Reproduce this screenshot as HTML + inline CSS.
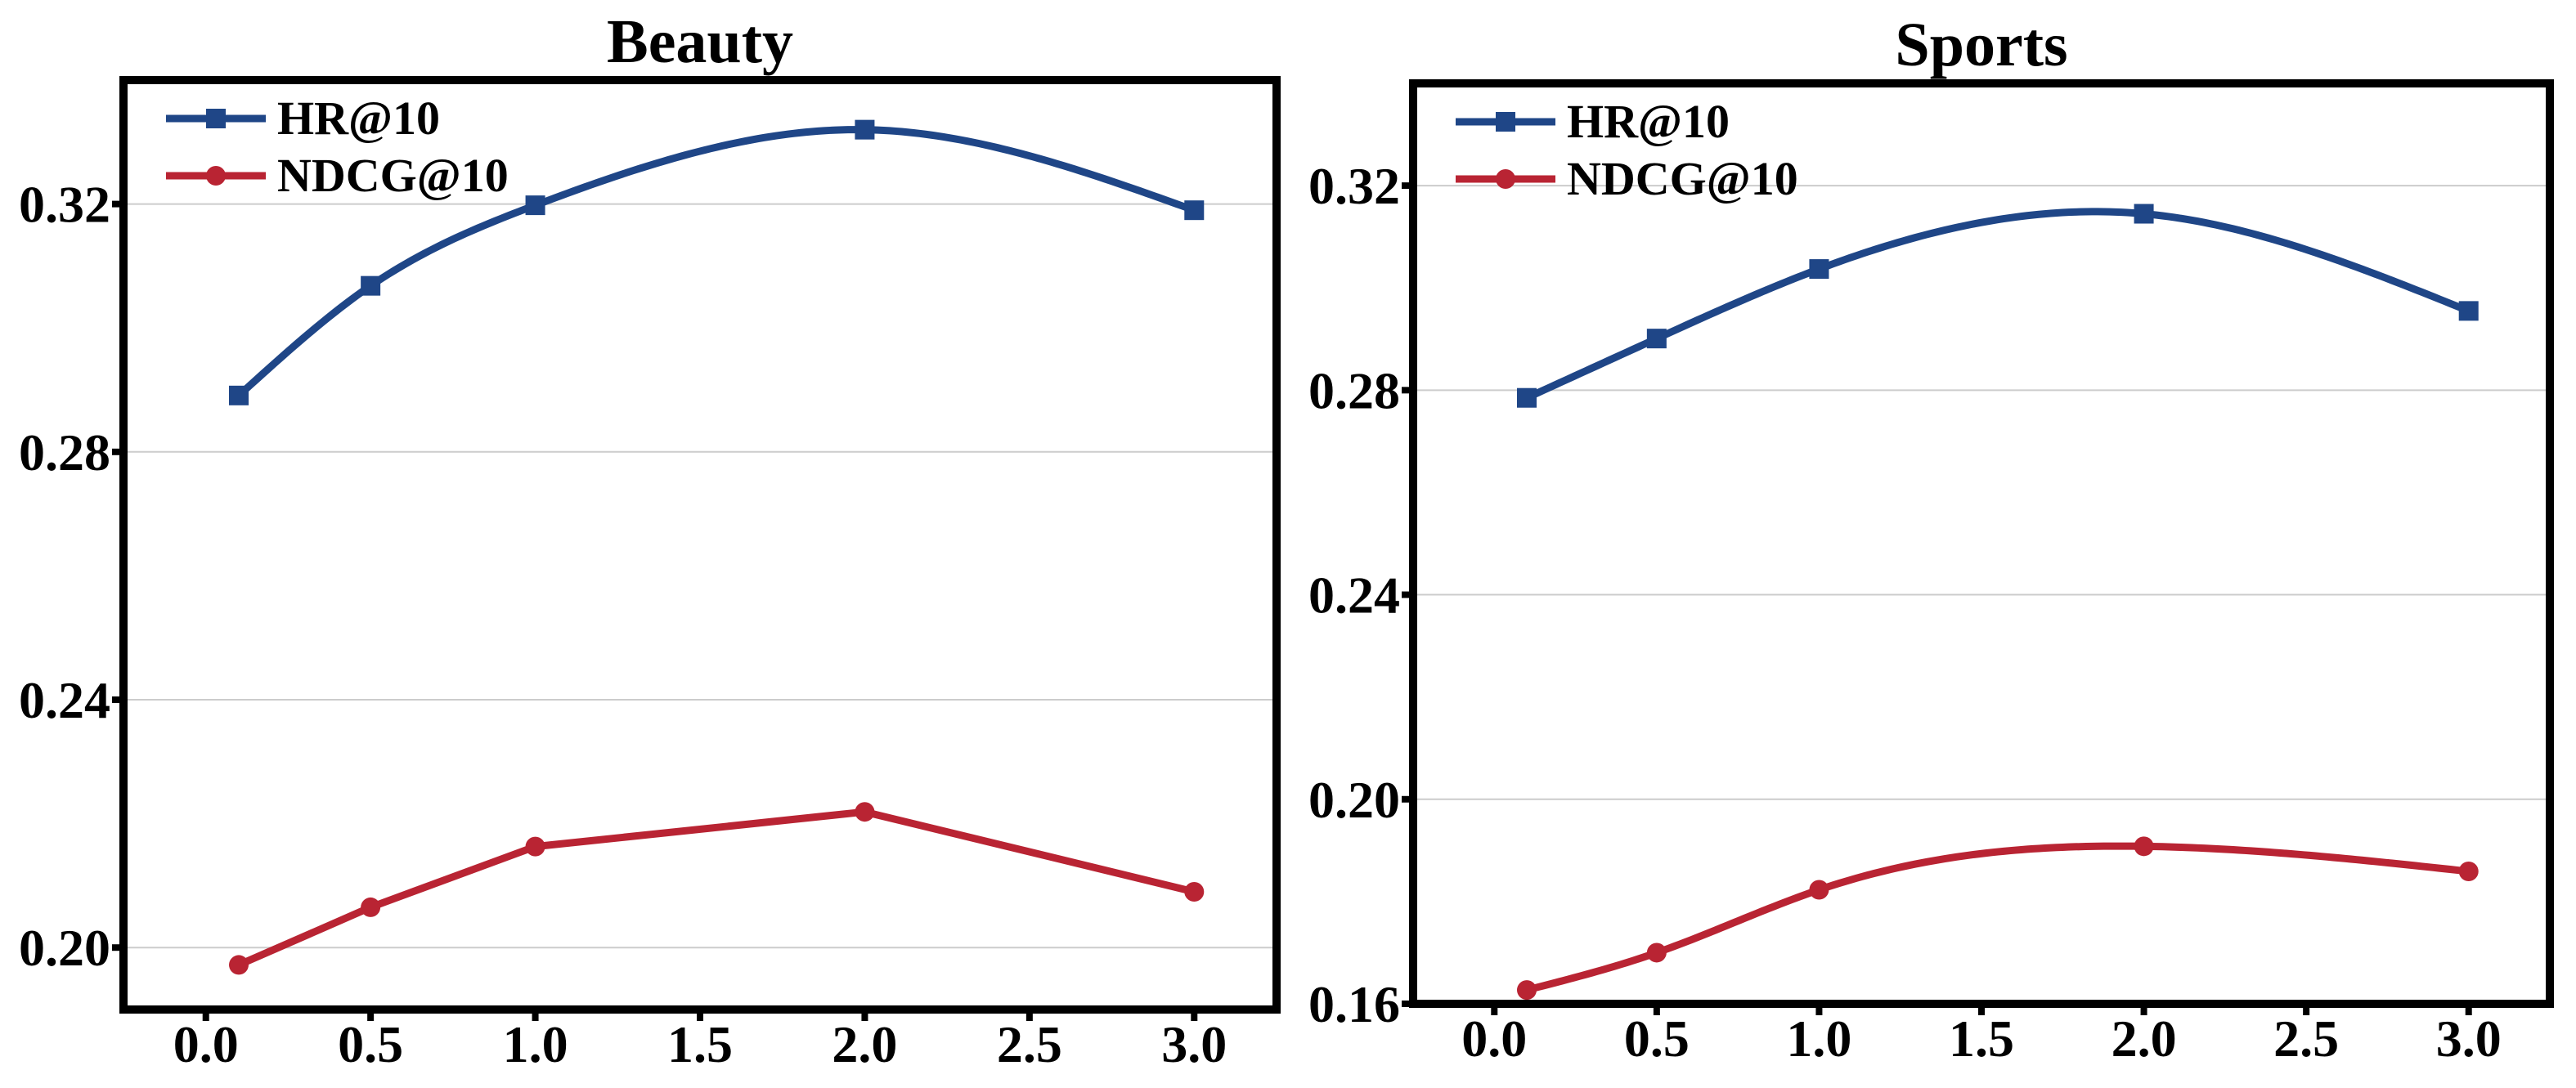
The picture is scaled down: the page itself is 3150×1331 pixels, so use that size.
<!DOCTYPE html>
<html><head><meta charset="utf-8"><style>
html,body{margin:0;padding:0;background:#fff;overflow:hidden;}
svg{display:block;font-family:"Liberation Serif",serif;font-weight:bold;}
</style></head><body>
<svg id="chart" width="3150" height="1331" viewBox="0 0 3150 1331" xmlns="http://www.w3.org/2000/svg"></svg>
<script>
const xValues = [0.1, 0.5, 1.0, 2.0, 3.0];
const xTicks = [0.0, 0.5, 1.0, 1.5, 2.0, 2.5, 3.0];
const xTickLabels = ["0.0","0.5","1.0","1.5","2.0","2.5","3.0"];
const beautyHR = [0.2891, 0.3068, 0.3198, 0.3320, 0.3190];
const beautyNDCG = [0.1972, 0.2065, 0.2163, 0.2219, 0.2090];
const beautyYTicks = [0.20, 0.24, 0.28, 0.32];
const beautyYTickLabels = ["0.20","0.24","0.28","0.32"];
const sportsHR = [0.2785, 0.2901, 0.3037, 0.3145, 0.2955];
const sportsNDCG = [0.1627, 0.1700, 0.1823, 0.1908, 0.1859];
const sportsYTicks = [0.16, 0.20, 0.24, 0.28, 0.32];
const sportsYTickLabels = ["0.16","0.20","0.24","0.28","0.32"];

const NS = "http://www.w3.org/2000/svg";
const svg = document.getElementById("chart");
function mk(tag, attrs, parent){const e=document.createElementNS(NS,tag);for(const k in attrs)e.setAttribute(k,attrs[k]);(parent||svg).appendChild(e);return e;}
const BLUE="#1f4687", RED="#b92433";

// natural cubic spline in data space
function spline(xs, ys){
  const n=xs.length, h=[], a=[], l=[1], mu=[0], z=[0], c=new Array(n).fill(0), b=[], d=[];
  for(let i=0;i<n-1;i++) h[i]=xs[i+1]-xs[i];
  for(let i=1;i<n-1;i++) a[i]=3/h[i]*(ys[i+1]-ys[i])-3/h[i-1]*(ys[i]-ys[i-1]);
  for(let i=1;i<n-1;i++){l[i]=2*(xs[i+1]-xs[i-1])-h[i-1]*mu[i-1];mu[i]=h[i]/l[i];z[i]=(a[i]-h[i-1]*z[i-1])/l[i];}
  l[n-1]=1;z[n-1]=0;
  for(let j=n-2;j>=0;j--){c[j]=z[j]-mu[j]*c[j+1];b[j]=(ys[j+1]-ys[j])/h[j]-h[j]*(c[j+1]+2*c[j])/3;d[j]=(c[j+1]-c[j])/(3*h[j]);}
  return x=>{let i=0;while(i<n-2&&x>xs[i+1])i++;const t=x-xs[i];return ys[i]+b[i]*t+c[i]*t*t+d[i]*t*t*t;};
}

function panel(cfg){
  const g=mk("g",{});
  
  
  const {L,R,T,B,ymin,ymax}=cfg;
  const xs=v=>L+(v+0.25)/3.5*(R-L);
  const ys=v=>B-(v-ymin)/(ymax-ymin)*(B-T);
  cfg.yTicks.forEach((t,i)=>{
    const y=ys(t);
    if(y<B-3){const gl=mk("line",{x1:L,x2:R,y1:y,y2:y,stroke:"#cccccc","stroke-width":2},g);
    
    }
    mk("line",{x1:L-14,x2:L,y1:y,y2:y,stroke:"#000","stroke-width":8},g);
    const tx=mk("text",{x:L-16,y:y+22,"text-anchor":"end","font-size":64},g);
    tx.textContent=cfg.yTickLabels[i];
    
    
  });
  xTicks.forEach((t,i)=>{
    const x=xs(t);
    mk("line",{x1:x,x2:x,y1:B,y2:B+14,stroke:"#000","stroke-width":8},g);
    const tx=mk("text",{x:x,y:B+64,"text-anchor":"middle","font-size":64},g);
    tx.textContent=xTickLabels[i];
    
    
  });
  const series=[{vals:cfg.hr,color:BLUE,mark:"sq",smooth:true,name:"hr-line"},{vals:cfg.ndcg,color:RED,mark:"ci",smooth:cfg.ndcgSmooth,name:"ndcg-line"}];
  series.forEach(s=>{
    const pts=xValues.map((x,i)=>[xs(x),ys(s.vals[i])]);
    let d;
    if(s.smooth){
      const f=spline(xValues,s.vals);
      const x0=xValues[0], x1=xValues[xValues.length-1], N=160;
      const arr=[];
      for(let k=0;k<=N;k++){const xv=x0+(x1-x0)*k/N;arr.push(xs(xv).toFixed(2)+","+ys(f(xv)).toFixed(2));}
      d="M"+arr.join(" L");
    } else d="M"+pts.map(p=>p.join(",")).join(" L");
    const p=mk("path",{d:d,fill:"none",stroke:s.color,"stroke-width":9,"stroke-linejoin":"round"},g);
    
    
    pts.forEach(pt=>{
      let m;
      if(s.mark==="sq") m=mk("rect",{x:pt[0]-12,y:pt[1]-12,width:24,height:24,fill:s.color},g);
      else m=mk("circle",{cx:pt[0],cy:pt[1],r:12,fill:s.color},g);
      
      
    });
  });
  const fr=mk("rect",{x:L,y:T,width:R-L,height:B-T,fill:"none",stroke:"#000","stroke-width":10},g);
  
  
  const ti=mk("text",{x:(L+R)/2,y:T-22,"text-anchor":"middle","font-size":76},g);
  ti.textContent=cfg.title;
  
  
  const lx=L+52;
  [["HR@10",BLUE,"sq",T+47],["NDCG@10",RED,"ci",T+117]].forEach(e=>{
    const lg=mk("g",{},g);
    
    
    mk("line",{x1:lx,x2:lx+122,y1:e[3],y2:e[3],stroke:e[1],"stroke-width":9},lg);
    if(e[2]==="sq") mk("rect",{x:lx+61-12,y:e[3]-12,width:24,height:24,fill:e[1]},lg);
    else mk("circle",{cx:lx+61,cy:e[3],r:12,fill:e[1]},lg);
    const t=mk("text",{x:lx+136,y:e[3]+19,"font-size":58},lg);
    t.textContent=e[0];
  });
}
panel({name:"beauty",title:"Beauty",L:151,R:1561,T:98,B:1235,ymin:0.19,ymax:0.34,hr:beautyHR,ndcg:beautyNDCG,ndcgSmooth:false,yTicks:beautyYTicks,yTickLabels:beautyYTickLabels});
panel({name:"sports",title:"Sports",L:1728,R:3118,T:102,B:1228,ymin:0.16,ymax:0.34,hr:sportsHR,ndcg:sportsNDCG,ndcgSmooth:true,yTicks:sportsYTicks,yTickLabels:sportsYTickLabels});
</script>
</body></html>
